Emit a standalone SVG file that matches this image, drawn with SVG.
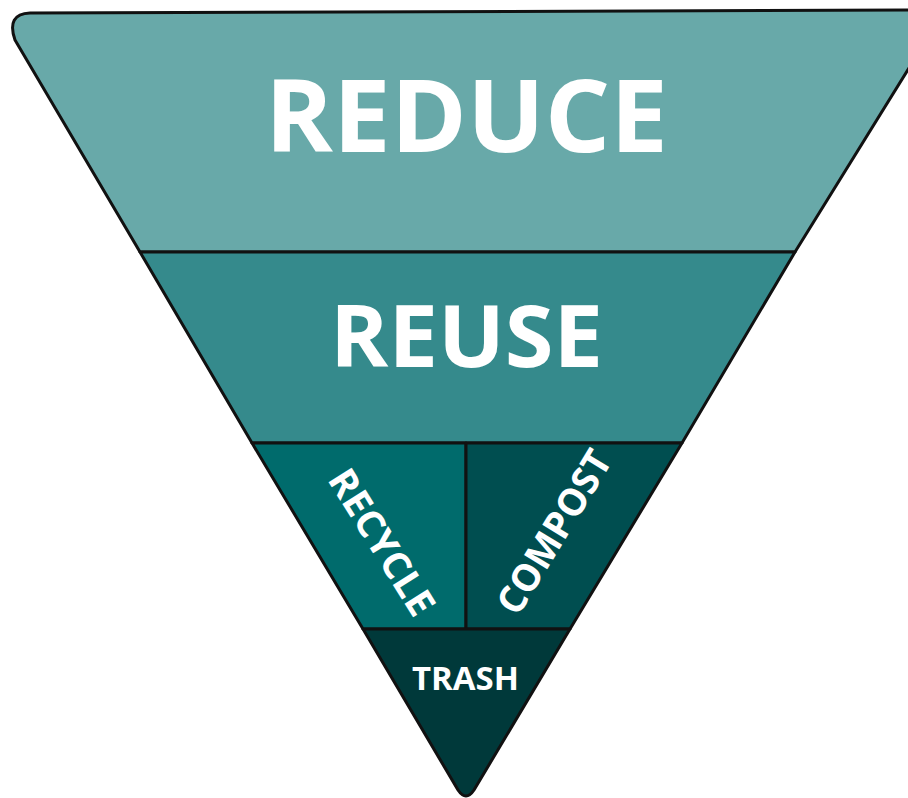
<svg xmlns="http://www.w3.org/2000/svg" width="908" height="798" viewBox="0 0 908 798">
<style>
.band{stroke:#111;stroke-width:3;stroke-linejoin:round}
.lbl{font-family:"Open Sans","Liberation Sans",sans-serif;font-weight:700;fill:#fff;text-anchor:middle}
</style>
<rect width="908" height="798" fill="#fff"/>
<g id="reduce">
<path class="band" fill="#68a9a9" d="M30,13 L945,10 L795,252 L140,252 L15,40 Q6,14 30,13 Z"/>
<text class="lbl" x="466.5" y="152" font-size="100" textLength="403" lengthAdjust="spacingAndGlyphs">REDUCE</text>
</g>
<g id="reuse">
<path class="band" fill="#358a8c" d="M140,252 L795,252 L682,443 L252,443 Z"/>
<text class="lbl" x="466.5" y="367" font-size="86" textLength="273" lengthAdjust="spacingAndGlyphs">REUSE</text>
</g>
<g id="recycle">
<path class="band" fill="#006b6c" d="M252,443 L466,443 L466,629 L363,629 Z"/>
<text class="lbl" transform="translate(382,542) rotate(58)" x="0" y="13.5" font-size="38" textLength="165" lengthAdjust="spacingAndGlyphs">RECYCLE</text>
</g>
<g id="compost">
<path class="band" fill="#004e50" d="M466,443 L682,443 L570,629 L466,629 Z"/>
<text class="lbl" transform="translate(554,532) rotate(-58.7)" x="0" y="13.5" font-size="38" textLength="184" lengthAdjust="spacingAndGlyphs">COMPOST</text>
</g>
<g id="trash">
<path class="band" fill="#00393a" d="M363,629 L570,629 L474,790 Q466,802 458,790 Z"/>
<text class="lbl" x="465.5" y="690" font-size="32" textLength="107" lengthAdjust="spacingAndGlyphs">TRASH</text>
</g>
<g id="connectors"></g>
</svg>
